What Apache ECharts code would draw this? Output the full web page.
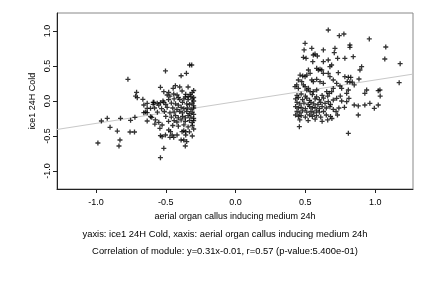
<!DOCTYPE html>
<html>
<head>
<meta charset="utf-8">
<script src="https://cdn.jsdelivr.net/npm/echarts@6/dist/echarts.min.js"></script>
<style>
  html, body { margin: 0; padding: 0; background: #fff; }
  #chart { width: 432px; height: 288px; }
</style>
</head>
<body>
<div id="chart"></div>
<script>
// left group of points [x, y]
let groupLeft = [
  [-0.771,0.31],[-0.709,0.124],[-0.716,0.07],[-0.704,0.047],[-0.664,0.024],[-0.633,-0.033],
  [-0.657,-0.057],[-0.59,-0.019],[-0.59,-0.047],[-0.609,-0.105],[-0.633,-0.105],[-0.657,-0.167],
  [-0.645,-0.157],[-0.633,-0.167],[-0.609,-0.224],[-0.6,-0.233],[-0.721,-0.233],[-0.752,-0.276],
  [-0.824,-0.247],[-0.633,-0.286],[-0.578,-0.329],[-0.919,-0.247],[-0.961,-0.286],[-0.899,-0.376],
  [-0.847,-0.429],[-0.756,-0.443],[-0.724,-0.443],[-0.828,-0.557],[-0.986,-0.6],[-0.835,-0.643],
  [-0.329,0.514],[-0.314,0.514],[-0.502,0.429],[-0.352,0.396],[-0.39,0.361],[-0.538,0.196],
  [-0.514,0.133],[-0.431,0.219],[-0.447,0.181],[-0.479,0.124],[-0.49,0.086],[-0.383,0.143],
  [-0.419,0.086],[-0.443,0.1],[-0.357,0.095],[-0.326,0.095],[-0.34,0.061],[-0.585,-0.019],
  [-0.561,-0.033],[-0.538,-0.024],[-0.514,-0.019],
  [-0.574,-0.271],[-0.55,-0.305],[-0.526,-0.343],[-0.542,-0.39],[-0.538,-0.495],[-0.526,-0.51],
  [-0.502,-0.486],[-0.479,-0.414],[-0.466,-0.438],[-0.454,-0.486],[-0.47,-0.519],[-0.419,-0.486],
  [-0.443,-0.519],[-0.383,-0.438],[-0.371,-0.424],[-0.39,-0.557],[-0.371,-0.557],[-0.357,-0.486],
  [-0.357,-0.438],[-0.36,-0.643],[-0.514,-0.676],[-0.538,-0.81],
  [-0.47,0.07],[-0.41,0.05],[-0.36,0.06],[-0.32,0.07],[-0.30,0.05],
  [-0.52,0.0],[-0.48,0.02],[-0.44,0.03],[-0.4,0.02],[-0.37,0.03],[-0.34,0.02],[-0.31,0.03],[-0.3,0.0],
  [-0.55,-0.06],[-0.5,-0.05],[-0.46,-0.03],[-0.43,-0.04],[-0.41,-0.06],[-0.38,-0.02],[-0.35,-0.04],
  [-0.33,-0.05],[-0.31,-0.03],[-0.3,-0.07],
  [-0.58,-0.1],[-0.53,-0.11],[-0.49,-0.09],[-0.45,-0.1],[-0.42,-0.12],[-0.39,-0.09],[-0.37,-0.11],
  [-0.345,-0.1],[-0.32,-0.12],[-0.3,-0.1],
  [-0.56,-0.16],[-0.51,-0.15],[-0.47,-0.17],[-0.44,-0.16],[-0.4,-0.15],[-0.38,-0.17],[-0.35,-0.15],
  [-0.33,-0.18],[-0.31,-0.16],[-0.3,-0.19],
  [-0.5,-0.22],[-0.46,-0.23],[-0.43,-0.21],[-0.41,-0.24],[-0.38,-0.22],[-0.36,-0.24],[-0.34,-0.21],
  [-0.32,-0.23],[-0.3,-0.25],
  [-0.48,-0.29],[-0.44,-0.28],[-0.42,-0.3],[-0.39,-0.27],[-0.36,-0.29],[-0.33,-0.28],[-0.31,-0.31],[-0.3,-0.28],
  [-0.45,-0.35],[-0.41,-0.36],[-0.37,-0.34],[-0.34,-0.37],[-0.31,-0.35],[-0.3,-0.4],
  [-0.34,0.2],[-0.31,0.12],[-0.4,0.2],[-0.3,0.15],[-0.33,-0.44],[-0.31,-0.5],[-0.35,-0.58]
];

// right group of points [x, y]
let groupRight = [
  [0.664,1.014],[0.743,0.933],[0.776,0.957],[0.498,0.824],[0.491,0.729],[0.546,0.753],[0.629,0.729],
  [0.712,0.753],[0.707,0.69],[0.486,0.624],[0.505,0.61],[0.557,0.657],[0.569,0.671],[0.586,0.643],
  [0.629,0.562],[0.664,0.586],[0.553,0.562],[0.731,0.61],[0.783,0.61],[0.676,0.49],[0.688,0.514],
  [0.581,0.467],[0.593,0.443],[0.605,0.452],[0.617,0.443],[0.522,0.443],[0.534,0.396],[0.629,0.396],
  [0.664,0.396],[0.676,0.347],[0.736,0.405],[0.462,0.371],[0.481,0.357],[0.498,0.347],[0.51,0.371],
  [0.45,0.3],[0.474,0.276],[0.546,0.3],[0.557,0.276],[0.581,0.31],[0.605,0.276],[0.629,0.253],
  [0.7,0.3],[0.724,0.253],[0.438,0.229],[0.426,0.204],[0.45,0.181],[0.486,0.229],[0.498,0.204],
  [0.522,0.181],[0.51,0.157],[0.748,0.214],[0.76,0.181],[0.534,0.133],[0.557,0.133],[0.581,0.157],
  [0.653,0.133],[0.688,0.133],[0.671,0.11],[0.808,0.157],[0.796,0.11],[0.641,-0.033],[0.664,-0.01],
  [0.676,-0.081],[0.7,0.014],[0.724,0.038],[0.457,-0.367],
  [0.958,0.886],[0.819,0.8],[0.819,0.767],[1.076,0.771],[0.843,0.633],[1.069,0.6],[1.179,0.533],
  [0.903,0.49],[0.891,0.443],[0.783,0.348],[0.808,0.338],[0.825,0.338],[0.884,0.314],[0.8,0.276],
  [0.819,0.271],[0.836,0.271],[0.85,0.229],[1.172,0.262],[0.939,0.157],[0.926,0.11],[1.022,0.148],
  [1.034,0.157],[1.036,0.071],[0.812,0.038],[0.796,-0.01],[0.85,-0.057],[0.879,-0.071],[0.926,-0.057],
  [0.962,-0.033],[1.022,-0.057],[0.994,-0.105],[0.879,-0.2],[0.808,-0.462],
  [0.44,0.08],[0.47,0.1],[0.5,0.07],[0.55,0.09],[0.58,0.06],[0.62,0.08],
  [0.43,0.03],[0.45,0.05],[0.48,0.02],[0.51,0.04],[0.53,0.01],[0.57,0.03],[0.6,0.02],[0.63,0.04],
  [0.44,-0.02],[0.46,-0.04],[0.49,-0.03],[0.52,-0.05],[0.54,-0.02],[0.56,-0.04],[0.59,-0.05],[0.61,-0.02],
  [0.43,-0.08],[0.45,-0.1],[0.47,-0.09],[0.5,-0.11],[0.53,-0.08],[0.55,-0.1],[0.57,-0.09],[0.6,-0.11],
  [0.62,-0.08],[0.65,-0.1],
  [0.44,-0.15],[0.46,-0.17],[0.48,-0.14],[0.51,-0.16],[0.54,-0.15],[0.56,-0.17],[0.58,-0.14],[0.6,-0.16],[0.63,-0.15],
  [0.43,-0.2],[0.45,-0.22],[0.47,-0.21],[0.5,-0.23],[0.53,-0.2],[0.55,-0.22],[0.58,-0.21],[0.61,-0.23],
  [0.65,-0.2],[0.68,-0.22],
  [0.46,-0.27],[0.52,-0.28],[0.57,-0.26],[0.62,-0.29],[0.66,-0.27],[0.69,-0.25],
  [0.7,-0.12],[0.74,-0.1],[0.72,-0.15],[0.68,-0.05],[0.66,0.07],[0.7,0.18],[0.75,0.07],[0.73,-0.2],
  [0.78,-0.09],[0.76,0.0]
];

// fitted line y = slope * x + intercept
let fitSlope = 0.31;
let fitIntercept = -0.01;

let xTicks = [-1.0, -0.5, 0.0, 0.5, 1.0];
let yTicks = [-1.0, -0.5, 0.0, 0.5, 1.0];
let xRange = [-1.279, 1.271];
let yRange = [-1.257, 1.257];

let xName = 'aerial organ callus inducing medium 24h';
let yName = 'ice1 24H Cold';
let subLine1 = 'yaxis: ice1 24H Cold, xaxis: aerial organ callus inducing medium 24h';
let subLine2 = 'Correlation of module: y=0.31x-0.01, r=0.57 (p-value:5.400e-01)';

let font = 'Liberation Sans, Arial, Helvetica, sans-serif';
// plus marker, arms a bit thicker so they stay dark
let plus = 'path://M1.85,0L3.15,0L3.15,1.85L5,1.85L5,3.15L3.15,3.15L3.15,5L1.85,5L1.85,3.15L0,3.15L0,1.85L1.85,1.85Z';

let fitLine = xRange.map(function (x) { return [x, fitSlope * x + fitIntercept]; });

let chart = echarts.init(document.getElementById('chart'), null, { renderer: 'canvas' });

let option = {
    animation: false,
    backgroundColor: '#fff',
    grid: {
        left: 57, right: 19, top: 13, bottom: 99,
        show: true,
        borderColor: '#888',
        borderWidth: 1
    },
    xAxis: {
        type: 'value',
        min: xRange[0], max: xRange[1],
        splitLine: { show: false },
        axisLine: { show: true, onZero: false, lineStyle: { color: '#222', width: 1 } },
        axisTick: { show: true, length: 4, customValues: xTicks, lineStyle: { color: '#222' } },
        axisLabel: {
            customValues: xTicks, margin: 9,
            color: '#000', fontSize: 9, fontFamily: font,
            formatter: function (v) { return v.toFixed(1); }
        },
        name: xName, nameLocation: 'middle', nameGap: 23, nameMoveOverlap: false,
        nameTextStyle: { color: '#000', fontSize: 9, fontFamily: font }
    },
    yAxis: {
        type: 'value',
        min: yRange[0], max: yRange[1],
        splitLine: { show: false },
        axisLine: { show: true, onZero: false, lineStyle: { color: '#222', width: 1 } },
        axisTick: { show: true, length: 4, customValues: yTicks, lineStyle: { color: '#222' } },
        axisLabel: {
            customValues: yTicks, rotate: 90, margin: 5,
            color: '#000', fontSize: 9, fontFamily: font,
            formatter: function (v) { return v.toFixed(1); }
        },
        name: yName, nameLocation: 'middle', nameGap: 20, nameRotate: 90, nameMoveOverlap: false,
        nameTextStyle: { color: '#000', fontSize: 9, fontFamily: font }
    },
    graphic: [
        { type: 'text', x: 225, y: 230,
          style: { text: subLine1, fill: '#000', font: '9.4px ' + font, textAlign: 'center' } },
        { type: 'text', x: 225, y: 247,
          style: { text: subLine2, fill: '#000', font: '9.4px ' + font, textAlign: 'center' } }
    ],
    series: [
        {
            type: 'line',
            data: fitLine,
            symbol: 'none',
            lineStyle: { color: '#c8c8c8', width: 1 },
            z: 1
        },
        {
            type: 'scatter',
            data: groupLeft.concat(groupRight),
            symbol: plus,
            symbolSize: 5,
            itemStyle: { color: '#000' },
            z: 2
        }
    ]
};

chart.setOption(option);
</script>
</body>
</html>
